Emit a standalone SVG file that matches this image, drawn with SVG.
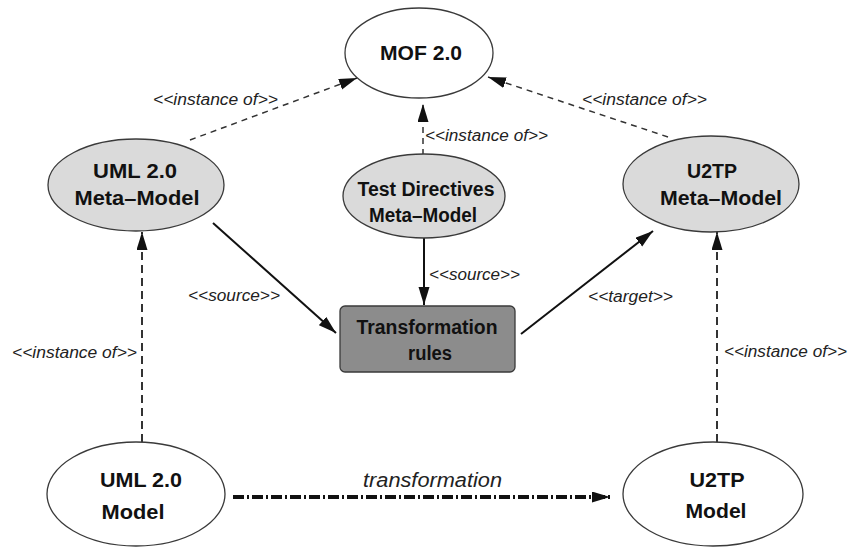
<svg xmlns="http://www.w3.org/2000/svg" width="848" height="547" viewBox="0 0 848 547">
  <style>
    .node { stroke: #3a3a3a; stroke-width: 1.3; }
    .plain { fill: #ffffff; }
    .meta { fill: #dadada; }
    .rule { fill: #8c8c8c; }
    .nl { font-family: "Liberation Sans", Arial, sans-serif; font-weight: bold; font-size: 20px; fill: #111; text-anchor: middle; }
    .el { font-family: "Liberation Sans", Arial, sans-serif; font-style: italic; font-size: 16px; fill: #222; }
    .dash { fill: none; stroke: #333; stroke-width: 1.5; stroke-dasharray: 6 5; }
    .vdash { fill: none; stroke: #333; stroke-width: 2; stroke-dasharray: 8 5; }
    .solid { fill: none; stroke: #111; stroke-width: 2; }
    .dashdot { fill: none; stroke: #111; stroke-width: 4; stroke-dasharray: 11 3 2 3; }
  </style>
  <defs>
    <marker id="arrow" markerUnits="userSpaceOnUse" markerWidth="20" markerHeight="12" refX="18" refY="5.5" orient="auto">
      <path d="M0,0 L18,5.5 L0,11 Z" fill="#111"/>
    </marker>
  </defs>

  <rect width="848" height="547" fill="#ffffff"/>

  <g id="connectors">
    <line class="dash" x1="190" y1="140" x2="357" y2="78" marker-end="url(#arrow)"/>
    <line class="dash" x1="668" y1="137" x2="488" y2="77" marker-end="url(#arrow)"/>
    <line class="dash" x1="423" y1="155" x2="423" y2="104" marker-end="url(#arrow)"/>
    <line class="solid" x1="213" y1="223" x2="336" y2="333" marker-end="url(#arrow)"/>
    <line class="solid" x1="424" y1="238" x2="424" y2="305" marker-end="url(#arrow)"/>
    <line class="solid" x1="521" y1="334" x2="653" y2="231" marker-end="url(#arrow)"/>
    <line class="vdash" x1="142" y1="442" x2="142" y2="232" marker-end="url(#arrow)"/>
    <line class="vdash" x1="717" y1="442" x2="717" y2="232" marker-end="url(#arrow)"/>
    <line class="dashdot" x1="233" y1="497" x2="610" y2="497" marker-end="url(#arrow)"/>

    <text class="el" x="153" y="105" textLength="125" lengthAdjust="spacingAndGlyphs">&lt;&lt;instance of&gt;&gt;</text>
    <text class="el" x="582" y="105" textLength="125" lengthAdjust="spacingAndGlyphs">&lt;&lt;instance of&gt;&gt;</text>
    <text class="el" x="425" y="141" textLength="123" lengthAdjust="spacingAndGlyphs">&lt;&lt;instance of&gt;&gt;</text>
    <text class="el" x="429" y="280" textLength="91" lengthAdjust="spacingAndGlyphs">&lt;&lt;source&gt;&gt;</text>
    <text class="el" x="188" y="301" textLength="92" lengthAdjust="spacingAndGlyphs">&lt;&lt;source&gt;&gt;</text>
    <text class="el" x="588" y="302" textLength="85" lengthAdjust="spacingAndGlyphs">&lt;&lt;target&gt;&gt;</text>
    <text class="el" x="12" y="358" textLength="125" lengthAdjust="spacingAndGlyphs">&lt;&lt;instance of&gt;&gt;</text>
    <text class="el" x="724" y="357" textLength="123" lengthAdjust="spacingAndGlyphs">&lt;&lt;instance of&gt;&gt;</text>
    <text class="el" x="363" y="487" style="font-size:20px" textLength="139" lengthAdjust="spacingAndGlyphs">transformation</text>
  </g>

  <g id="mof">
    <ellipse class="node plain" cx="419" cy="53" rx="74" ry="45"/>
    <text class="nl" x="421" y="60" textLength="82" lengthAdjust="spacingAndGlyphs">MOF 2.0</text>
  </g>

  <g id="uml-metamodel">
    <ellipse class="node meta" cx="136" cy="185" rx="88" ry="46"/>
    <text class="nl" x="135" y="178" textLength="84" lengthAdjust="spacingAndGlyphs">UML 2.0</text>
    <text class="nl" x="137" y="205" textLength="125" lengthAdjust="spacingAndGlyphs">Meta–Model</text>
  </g>

  <g id="test-directives">
    <ellipse class="node meta" cx="424" cy="196" rx="81" ry="42"/>
    <text class="nl" x="426" y="196" textLength="137" lengthAdjust="spacingAndGlyphs">Test Directives</text>
    <text class="nl" x="423" y="222" textLength="108" lengthAdjust="spacingAndGlyphs">Meta–Model</text>
  </g>

  <g id="u2tp-metamodel">
    <ellipse class="node meta" cx="711" cy="184" rx="88" ry="48"/>
    <text class="nl" x="712" y="178" textLength="50" lengthAdjust="spacingAndGlyphs">U2TP</text>
    <text class="nl" x="721" y="205" textLength="122" lengthAdjust="spacingAndGlyphs">Meta–Model</text>
  </g>

  <g id="transformation-rules">
    <rect class="node rule" x="340" y="306" width="175" height="66" rx="5"/>
    <text class="nl" x="427" y="334" textLength="141" lengthAdjust="spacingAndGlyphs">Transformation</text>
    <text class="nl" x="430" y="360" textLength="44" lengthAdjust="spacingAndGlyphs">rules</text>
  </g>

  <g id="uml-model">
    <ellipse class="node plain" cx="136" cy="494" rx="89" ry="52"/>
    <text class="nl" x="141" y="487" style="font-size:21px" textLength="82" lengthAdjust="spacingAndGlyphs">UML 2.0</text>
    <text class="nl" x="133" y="519" style="font-size:21px" textLength="63" lengthAdjust="spacingAndGlyphs">Model</text>
  </g>

  <g id="u2tp-model">
    <ellipse class="node plain" cx="713" cy="494" rx="90" ry="52"/>
    <text class="nl" x="717" y="487" style="font-size:21px" textLength="55" lengthAdjust="spacingAndGlyphs">U2TP</text>
    <text class="nl" x="716" y="518" style="font-size:21px" textLength="61" lengthAdjust="spacingAndGlyphs">Model</text>
  </g>
</svg>
